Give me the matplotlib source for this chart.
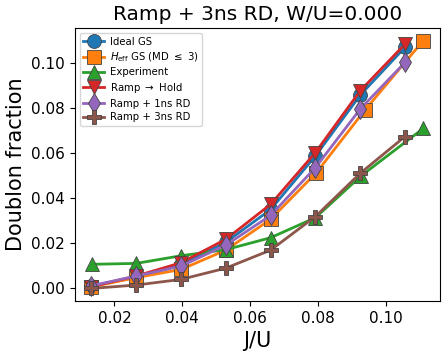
import numpy as np
import matplotlib
matplotlib.use("Agg")
import matplotlib.pyplot as plt

# J/U values
ju_theory = [0.0132, 0.0264, 0.0396, 0.0528, 0.0660, 0.0792, 0.0924, 0.1056]
ju_heff = [0.0132, 0.0264, 0.0396, 0.0528, 0.0660, 0.0795, 0.0937, 0.1110]
ju_exp = [0.0133, 0.0264, 0.0396, 0.0528, 0.0660, 0.0792, 0.0927, 0.1110]

# doublon fractions
ideal_gs = [0.0010, 0.0050, 0.0105, 0.0205, 0.0350, 0.0588, 0.0858, 0.1070]
heff_gs = [0.0007, 0.0048, 0.0084, 0.0170, 0.0307, 0.0514, 0.0790, 0.1100]
experiment = [0.0107, 0.0111, 0.0145, 0.0172, 0.0225, 0.0314, 0.0500, 0.0710]
ramp_hold = [0.0008, 0.0055, 0.0114, 0.0218, 0.0373, 0.0603, 0.0877, 0.1084]
ramp_1ns = [0.0012, 0.0055, 0.0099, 0.0192, 0.0324, 0.0536, 0.0796, 0.1003]
ramp_3ns = [0.0000, 0.0015, 0.0040, 0.0090, 0.0170, 0.0319, 0.0511, 0.0674]

series = [
    (ju_theory, ideal_gs, "o", "tab:blue", "Ideal GS"),
    (ju_heff, heff_gs, "s", "tab:orange", r"$H_{\rm eff}$ GS (MD $\leq$ 3)"),
    (ju_exp, experiment, "^", "tab:green", "Experiment"),
    (ju_theory, ramp_hold, "v", "tab:red", r"Ramp $\rightarrow$ Hold"),
    (ju_theory, ramp_1ns, "d", "tab:purple", "Ramp + 1ns RD"),
    (ju_theory, ramp_3ns, "P", "tab:brown", "Ramp + 3ns RD"),
]

fig = plt.figure(figsize=(4.48, 3.56), dpi=100)
ax = fig.add_axes([0.167, 0.155, 0.815, 0.766])

for x, y, m, c, lab in series:
    ax.plot(x, y, marker=m, color=c, label=lab, lw=2, markersize=10,
            markeredgecolor="#444444", markeredgewidth=0.6)

ax.set_title("Ramp + 3ns RD, W/U=0.000", fontsize=14.5)
ax.set_xlabel("J/U", fontsize=15)
ax.set_ylabel("Doublon fraction", fontsize=15)
ax.tick_params(labelsize=11)
ax.legend(loc="upper left", fontsize=7.3, labelspacing=0.35,
          handletextpad=0.6, borderpad=0.35)

fig.savefig("out.png", dpi=100)
